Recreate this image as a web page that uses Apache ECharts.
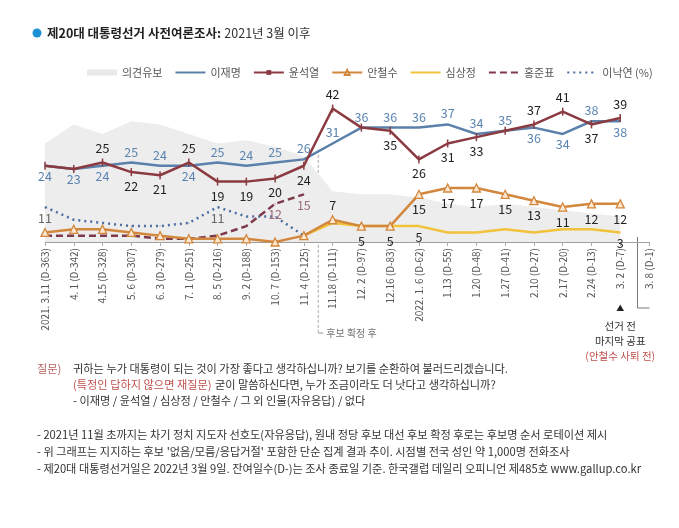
<!DOCTYPE html>
<html><head><meta charset="utf-8">
<script src="https://cdn.jsdelivr.net/npm/echarts@6/dist/echarts.min.js"></script>
<style>html,body{margin:0;padding:0;background:#fff}#c{width:679px;height:528px}</style>
</head><body><div id="c"></div>
<script>
// ---- data ----
const categories = ['2021. 3.11 (D-363)','4. 1 (D-342)','4.15 (D-328)','5. 6 (D-307)','6. 3 (D-279)','7. 1 (D-251)','8. 5 (D-216)','9. 2 (D-188)','10. 7 (D-153)','11. 4 (D-125)','11.18 (D-111)','12. 2 (D-97)','12.16 (D-83)','2022. 1. 6 (D-62)','1.13 (D-55)','1.20 (D-48)','1.27 (D-41)','2.10 (D-27)','2.17 (D-20)','2.24 (D-13)','3. 2 (D-7)','3. 8 (D-1)'];
const undecided = [31,37,34,38,37,34,31,32,30,27,16,15,15,14,12,11,12,11,10,9,8,null];
const leeJM  = [24,23,24,25,24,24,25,24,25,26,31,36,36,36,37,34,35,36,34,38,38,null];
const yoonSY = [24,23,25,22,21,25,19,19,20,24,42,36,35,26,31,33,35,37,41,37,39,null];
const ahnCS  = [3,4,4,3,2,1,1,1,0,2,7,5,5,15,17,17,15,13,11,12,12,null];
const simSJ  = [null,null,null,null,null,null,null,null,null,2,6,5,5,5,3,3,4,3,4,4,3,null];
const hongJP = [2,2,2,2,1,1,2,5,12,15,null,null,null,null,null,null,null,null,null,null,null,null];
const leeNY  = [11,7,6,5,5,6,11,8,8,2,null,null,null,null,null,null,null,null,null,null,null,null];

// label placement per point ('t' above, 'b' below, '' none)
const posLeeJM  = ['b','b','b','t','t','b','t','t','t','t','t','t','t','t','t','t','t','b','b','t','b',''];
const posYoon   = ['','','t','b','b','t','b','b','b','b','t','','b','b','b','b','','t','t','b','t',''];
const posAhn    = ['','','','','','','','','','','t','b','b','b','b','b','b','b','b','b','b',''];
const posSim    = ['','','','','','','','','','','','','','b','','','','','','','b',''];
const posHong   = ['','','','','','','','','b','b','','','','','','','','','','','',''];
const posLeeNY  = ['b','','','','','','b','','','','','','','','','','','','','','',''];

const FONT = '"Noto Sans CJK KR", "Noto Sans", sans-serif';
function pts(vals, pos, color) {
  return vals.map((v, i) => {
    const p = pos[i];
    return {
      value: v == null ? '-' : v,
      label: p ? {show: true, position: p === 't' ? 'top' : 'bottom', color: color} : {show: false}
    };
  });
}

const chart = echarts.init(document.getElementById('c'), null, {renderer: 'canvas'});
const C = {
  area: '#ededed', lee: '#5b80a9', yoon: '#8a3a40', ahn: '#d2873d', sim: '#f2c23a', hong: '#7e3a4b', ny: '#4d6ea3'
};
const baseLabel = {fontSize: 12.5, distance: 4, fontFamily: FONT};
const noMark = {opacity: 0};

chart.setOption({
  animation: false,
  textStyle: {fontFamily: FONT},
  grid: {left: 45, right: 30, top: 99, bottom: 286, containLabel: false, outerBoundsMode: 'none'},
  legend: {
    top: 62, left: 82, itemWidth: 30, itemHeight: 6, itemGap: 12,
    textStyle: {fontSize: 11, color: '#555', fontFamily: FONT},
    data: [
      {name: '의견유보', icon: 'rect', itemStyle: {color: '#e9e9e9'}},
      {name: '이재명', itemStyle: noMark},
      '윤석열', '안철수',
      {name: '심상정', itemStyle: noMark},
      {name: '홍준표', itemStyle: noMark},
      {name: '이낙연 (%)', itemStyle: noMark}
    ]
  },
  xAxis: {
    type: 'category', data: categories, boundaryGap: false,
    axisLine: {lineStyle: {color: '#a0a0a0', width: 1}},
    axisTick: {show: true, alignWithLabel: true, length: 4, lineStyle: {color: '#aaa'}},
    axisLabel: {rotate: 90, interval: 0, fontSize: 10, color: '#555', margin: 6, fontFamily: FONT},
    splitLine: {show: false}
  },
  yAxis: {type: 'value', min: 0, max: 45, show: false, splitLine: {show: false}},
  series: [
    {name: '의견유보', type: 'line', data: undecided.map(v => v == null ? '-' : v), symbol: 'none',
      lineStyle: {width: 0, color: '#e9e9e9'}, itemStyle: {color: '#e9e9e9'},
      areaStyle: {color: C.area, opacity: 1}, z: 1, silent: true},
    {name: '이낙연 (%)', type: 'line', data: pts(leeNY, posLeeNY, '#666'), symbol: 'circle', symbolSize: 1,
      showAllSymbol: true, lineStyle: {width: 2.5, type: [2, 4], color: C.ny}, itemStyle: {color: C.ny},
      label: baseLabel, z: 2},
    {name: '홍준표', type: 'line', data: pts(hongJP, posHong, '#9c6b7a'), symbol: 'circle', symbolSize: 1,
      showAllSymbol: true, lineStyle: {width: 2.5, type: [7, 4], color: C.hong}, itemStyle: {color: C.hong},
      label: baseLabel, z: 3},
    {name: '심상정', type: 'line', data: pts(simSJ, posSim, '#222'), symbol: 'circle', symbolSize: 1,
      showAllSymbol: true, lineStyle: {width: 2.5, color: C.sim}, itemStyle: {color: C.sim},
      label: baseLabel, z: 4},
    {name: '안철수', type: 'line', data: pts(ahnCS, posAhn, '#222'), symbol: 'triangle', symbolSize: 8,
      showAllSymbol: true, lineStyle: {width: 2.5, color: C.ahn},
      itemStyle: {color: '#fde7cf', borderColor: C.ahn, borderWidth: 1.3},
      label: baseLabel, z: 5},
    {name: '이재명', type: 'line', data: pts(leeJM, posLeeJM, '#5b84b1'), symbol: 'circle', symbolSize: 1,
      showAllSymbol: true, lineStyle: {width: 2.5, color: C.lee}, itemStyle: {color: C.lee},
      label: baseLabel, z: 6},
    {name: '윤석열', type: 'line', data: pts(yoonSY, posYoon, '#222'), symbol: 'rect', symbolSize: [1.5, 8],
      showAllSymbol: true, lineStyle: {width: 2.5, color: C.yoon}, itemStyle: {color: C.yoon},
      label: baseLabel, z: 7}
  ]
});

// ---- annotations positioned from the axes ----
const px = i => chart.convertToPixel({xAxisIndex: 0}, i);
const py = v => chart.convertToPixel({yAxisIndex: 0}, v);
const xs = (px(9) + px(10)) / 2;
const xr = px(20) + 0.6 * (px(21) - px(20));
const y0 = py(0);
const F = '11.2px ' + FONT;
const T = (x, y, text, o) => Object.assign({type: 'text', x: x, y: y, silent: true,
  style: Object.assign({text: text, fill: '#333', font: F, align: 'left', verticalAlign: 'middle'}, o || {})});

chart.setOption({
  graphic: [
    {type: 'circle', shape: {cx: 37, cy: 33, r: 4.5}, style: {fill: '#1e90d6'}, silent: true},
    {type: 'text', x: 47, y: 33, silent: true, style: {
      text: '{b|제20대 대통령선거 사전여론조사:} {r|2021년 3월 이후}', verticalAlign: 'middle', align: 'left',
      rich: {b: {font: 'bold 12.5px ' + FONT, fill: '#222'}, r: {font: '12.5px ' + FONT, fill: '#333'}}}},
    // candidate-confirmed separator
    {type: 'line', silent: true, shape: {x1: xs, y1: py(29), x2: xs, y2: 333},
      style: {stroke: '#aaa', lineWidth: 1, lineDash: [3, 2]}},
    {type: 'line', silent: true, shape: {x1: xs, y1: 333, x2: xs + 5, y2: 333}, style: {stroke: '#999', lineWidth: 1}},
    T(xs + 8, 333, '후보 확정 후', {fill: '#777', font: '10px ' + FONT}),
    // last-publication bracket
    {type: 'polyline', silent: true, shape: {points: [[xr, y0 - 5], [xr, 308], [xr + 12, 308]]},
      style: {stroke: '#777', lineWidth: 1, fill: null}},
    T(px(20), 308, '▲', {align: 'center', font: '8px ' + FONT, fill: '#222'}),
    T(px(20), 326, '선거 전', {align: 'center', fill: '#333', font: '10.5px ' + FONT}),
    T(px(20), 341, '마지막 공표', {align: 'center', fill: '#333', font: '10.5px ' + FONT}),
    T(px(20), 356, '(안철수 사퇴 전)', {align: 'center', fill: '#c0504d', font: '10.5px ' + FONT}),
    // question
    T(37, 369, '질문)', {fill: '#b5625f'}),
    T(73, 369, '귀하는 누가 대통령이 되는 것이 가장 좋다고 생각하십니까? 보기를 순환하여 불러드리겠습니다.'),
    {type: 'text', x: 73, y: 385, silent: true, style: {
      text: '{a|(특정인 답하지 않으면 재질문)} {n|굳이 말씀하신다면, 누가 조금이라도 더 낫다고 생각하십니까?}',
      verticalAlign: 'middle', align: 'left',
      rich: {a: {font: F, fill: '#c0504d'}, n: {font: F, fill: '#333'}}}},
    T(73, 401, '- 이재명 / 윤석열 / 심상정 / 안철수 / 그 외 인물(자유응답) / 없다'),
    // notes
    T(37, 435, '- 2021년 11월 초까지는 차기 정치 지도자 선호도(자유응답), 원내 정당 후보 대선 후보 확정 후로는 후보명 순서 로테이션 제시'),
    T(37, 452, "- 위 그래프는 지지하는 후보 '없음/모름/응답거절' 포함한 단순 집계 결과 추이. 시점별 전국 성인 약 1,000명 전화조사"),
    T(37, 469, '- 제20대 대통령선거일은 2022년 3월 9일. 잔여일수(D-)는 조사 종료일 기준. 한국갤럽 데일리 오피니언 제485호 www.gallup.co.kr')
  ]
});
</script>
</body></html>
